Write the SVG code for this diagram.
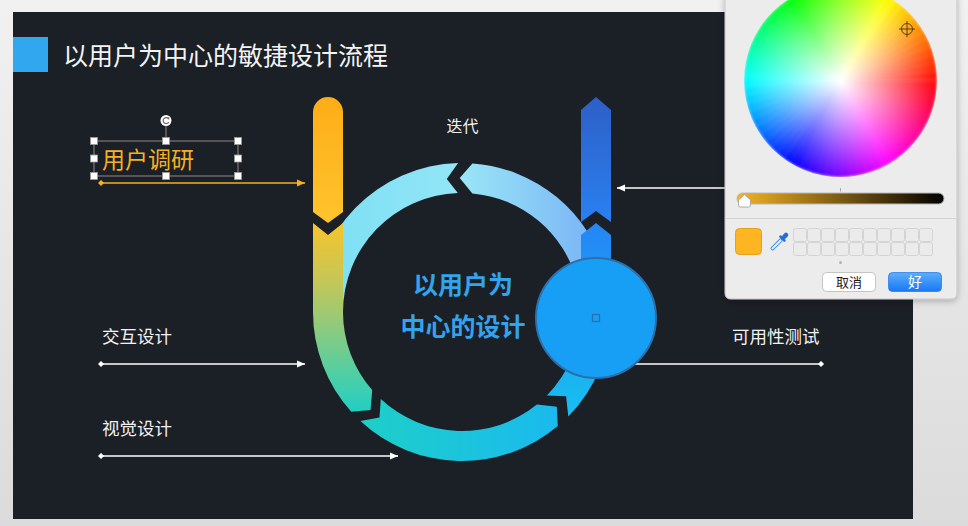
<svg xmlns="http://www.w3.org/2000/svg" width="968" height="526" viewBox="0 0 968 526">
<defs>
<style>
.cjk{font-family:"Noto Sans CJK SC","Noto Sans CJK JP",sans-serif}
.lbl{fill:#f2f2f2;font-size:17.5px}
.ln{stroke:#fff;stroke-width:1.4;fill:none}
.hw{fill:none;stroke-width:96.5;stroke-dasharray:5 299}
.hd{fill:#fff;stroke:#9a9a9a;stroke-width:0.8}
.sw{fill:#ebebeb;stroke:#d4d4d4;stroke-width:1}
</style>
<linearGradient id="gPage" x1="0" y1="0" x2="0" y2="1"><stop offset="0" stop-color="#f1f1f1"/><stop offset="1" stop-color="#dbdbdb"/></linearGradient>
<linearGradient id="gYT" gradientUnits="userSpaceOnUse" x1="0" y1="97" x2="0" y2="223"><stop offset="0" stop-color="#fdad17"/><stop offset="1" stop-color="#fec42c"/></linearGradient>
<linearGradient id="gLeft" gradientUnits="userSpaceOnUse" x1="0" y1="223" x2="0" y2="412"><stop offset="0" stop-color="#f7c42b"/><stop offset="0.3" stop-color="#c6c756"/><stop offset="0.55" stop-color="#8fca7d"/><stop offset="0.8" stop-color="#4fcfa4"/><stop offset="1" stop-color="#22cec5"/></linearGradient>
<linearGradient id="gTL" gradientUnits="userSpaceOnUse" x1="313" y1="0" x2="458" y2="0"><stop offset="0" stop-color="#7bdff3"/><stop offset="1" stop-color="#93e5f7"/></linearGradient>
<linearGradient id="gTR" gradientUnits="userSpaceOnUse" x1="460" y1="0" x2="611" y2="0"><stop offset="0" stop-color="#9ae6f7"/><stop offset="1" stop-color="#76aef6"/></linearGradient>
<linearGradient id="gBot" gradientUnits="userSpaceOnUse" x1="360" y1="0" x2="558" y2="0"><stop offset="0" stop-color="#1ecfc8"/><stop offset="1" stop-color="#1abaee"/></linearGradient>
<linearGradient id="gBR" gradientUnits="userSpaceOnUse" x1="0" y1="223" x2="0" y2="416"><stop offset="0" stop-color="#2585f5"/><stop offset="1" stop-color="#17bff0"/></linearGradient>
<linearGradient id="gBT" gradientUnits="userSpaceOnUse" x1="0" y1="97" x2="0" y2="222"><stop offset="0" stop-color="#2d5fc6"/><stop offset="1" stop-color="#2a80f1"/></linearGradient>
<linearGradient id="gSlider" x1="0" y1="0" x2="1" y2="0"><stop offset="0" stop-color="#f6b324"/><stop offset="1" stop-color="#000"/></linearGradient>
<linearGradient id="gOk" x1="0" y1="0" x2="0" y2="1"><stop offset="0" stop-color="#5eaefc"/><stop offset="1" stop-color="#1878f4"/></linearGradient>
<radialGradient id="gWhite" cx="0.5" cy="0.5" r="0.5"><stop offset="0" stop-color="#fff" stop-opacity="1"/><stop offset="1" stop-color="#fff" stop-opacity="0"/></radialGradient>
<clipPath id="cWheel"><circle cx="840.5" cy="80.5" r="96.5"/></clipPath>
<filter id="fBlur" filterUnits="userSpaceOnUse" x="-110" y="-110" width="220" height="220"><feGaussianBlur stdDeviation="1.5"/></filter>
<filter id="fShadow" x="-10%" y="-10%" width="120%" height="120%"><feDropShadow dx="0" dy="2" stdDeviation="3" flood-color="#000" flood-opacity="0.25"/></filter>
<marker id="arrW" viewBox="0 0 8 8" refX="8" refY="4" markerWidth="8" markerHeight="8" orient="auto" markerUnits="userSpaceOnUse"><path d="M0,0.5 L8,4 L0,7.5 Z" fill="#fff"/></marker>
<marker id="arrO" viewBox="0 0 8 8" refX="8" refY="4" markerWidth="8" markerHeight="8" orient="auto" markerUnits="userSpaceOnUse"><path d="M0,0.5 L8,4 L0,7.5 Z" fill="#f5b120"/></marker>
<marker id="dW" viewBox="0 0 8 8" refX="4" refY="4" markerWidth="7" markerHeight="7" orient="auto" markerUnits="userSpaceOnUse"><path d="M4,0.5 L7.5,4 L4,7.5 L0.5,4 Z" fill="#fff"/></marker>
<marker id="dO" viewBox="0 0 8 8" refX="4" refY="4" markerWidth="7" markerHeight="7" orient="auto" markerUnits="userSpaceOnUse"><path d="M4,0.5 L7.5,4 L4,7.5 L0.5,4 Z" fill="#f5b120"/></marker>
</defs>

<rect x="0" y="0" width="968" height="526" fill="url(#gPage)"/>
<rect id="slide" x="13" y="12" width="900" height="507" fill="#1b1f26"/>

<g id="title">
<rect x="13" y="37" width="35" height="35" fill="#31a7f0"/>
<text class="cjk" x="63" y="65" font-size="25" fill="#f4f4f4">以用户为中心的敏捷设计流程</text>
</g>

<g id="arc-top-left"><path d="M313,312 A149,149 0 0 1 458.1,163.05 L446.8,178.9 L457.8,193.1 A119,119 0 0 0 343,312 Z" fill="url(#gTL)"/></g>
<g id="arc-top-right"><path d="M472.4,163.4 A149,149 0 0 1 605.9,273.4 L577,281.2 A119,119 0 0 0 472.4,193.5 L459.7,178 Z" fill="url(#gTR)"/></g>
<g id="arc-bottom"><path d="M360.4,421 A149,149 0 0 0 557.8,426.1 L556.8,406.8 L536.9,404.5 A119,119 0 0 1 380.8,399 L379.5,417.6 Z" fill="url(#gBot)"/></g>
<g id="left-piece"><path d="M313,223 L328,235 L343,223 L343,312 A119,119 0 0 0 372.2,390.1 L370.6,410 L351.3,411.7 A149,149 0 0 1 313,312 Z" fill="url(#gLeft)"/></g>
<g id="yellow-bar"><path d="M313,212 L313,112 A15,15 0 0 1 343,112 L343,212 L328,223 Z" fill="url(#gYT)"/></g>
<g id="blue-bar"><path d="M581,110 L596,97 L611,110 L611,222 L596,211 L581,222 Z" fill="url(#gBT)"/></g>
<g id="right-piece"><path d="M581,235 L596,223 L611,235 L611,312 A149,149 0 0 1 568.3,416.4 L566.1,396.3 L546.9,395.4 A119,119 0 0 0 581,312 Z" fill="url(#gBR)"/></g>

<g id="connectors">
<line x1="101" y1="183" x2="305" y2="183" stroke="#f5b120" stroke-width="1.4" marker-start="url(#dO)" marker-end="url(#arrO)"/>
<line class="ln" x1="101" y1="364" x2="305" y2="364" marker-start="url(#dW)" marker-end="url(#arrW)"/>
<line class="ln" x1="101" y1="456" x2="398" y2="456" marker-start="url(#dW)" marker-end="url(#arrW)"/>
<line class="ln" x1="600" y1="364" x2="821" y2="364" marker-end="url(#dW)"/>
<line class="ln" x1="770" y1="188" x2="617" y2="188" marker-end="url(#arrW)"/>
</g>

<g id="blue-circle">
<circle cx="596" cy="318" r="60" fill="#169ff5" stroke="#2d6fa8" stroke-width="2"/>
<rect x="592.5" y="314.5" width="7" height="7" fill="none" stroke="#2a6fae" stroke-width="1.2"/>
</g>

<g id="center-text" class="cjk" font-size="25" font-weight="bold" fill="#33a3eb" text-anchor="middle">
<text x="463" y="294">以用户为</text>
<text x="463" y="336">中心的设计</text>
</g>

<g id="label-iterate"><text class="cjk" x="462.5" y="132" font-size="16" fill="#f2f2f2" text-anchor="middle">迭代</text></g>

<g id="label-research">
<rect x="94" y="141" width="144" height="35" fill="none" stroke="#8c8c8c" stroke-width="1"/>
<line x1="166" y1="126" x2="166" y2="141" stroke="#8c8c8c" stroke-width="1"/>
<circle cx="166" cy="120.5" r="5.5" fill="#fff"/>
<path d="M168.4,118.6 A3,3 0 1 0 168.8,122" fill="none" stroke="#6d6d6d" stroke-width="1.2"/>
<path d="M167.2,117.2 L169.6,117.6 L168.9,119.9 Z" fill="#6d6d6d"/>
<rect class="hd" x="90.5" y="137.5" width="7" height="7"/>
<rect class="hd" x="162.5" y="137.5" width="7" height="7"/>
<rect class="hd" x="234.5" y="137.5" width="7" height="7"/>
<rect class="hd" x="90.5" y="155" width="7" height="7"/>
<rect class="hd" x="234.5" y="155" width="7" height="7"/>
<rect class="hd" x="90.5" y="172.5" width="7" height="7"/>
<rect class="hd" x="162.5" y="172.5" width="7" height="7"/>
<rect class="hd" x="234.5" y="172.5" width="7" height="7"/>
<text class="cjk" x="102" y="168" font-size="23" fill="#f5b120">用户调研</text>
</g>

<g id="label-interaction"><text class="cjk lbl" x="102" y="342.5">交互设计</text></g>
<g id="label-visual"><text class="cjk lbl" x="102" y="434.5">视觉设计</text></g>
<g id="label-usability"><text class="cjk lbl" x="732" y="342.5">可用性测试</text></g>

<g id="color-picker">
<path d="M725,-5 H957 V293 Q957,299 951,299 H731 Q725,299 725,293 Z" fill="#ececec" stroke="#c6c6c6" stroke-width="1" filter="url(#fShadow)"/>
<g clip-path="url(#cWheel)">
<g filter="url(#fBlur)" transform="translate(840.5,80.5)">
<circle class="hw" r="48.25" stroke="hsl(357.5,100%,50%)" stroke-dashoffset="0"/>
<circle class="hw" r="48.25" stroke="hsl(352.5,100%,50%)" stroke-dashoffset="-4.21"/>
<circle class="hw" r="48.25" stroke="hsl(347.5,100%,50%)" stroke-dashoffset="-8.42"/>
<circle class="hw" r="48.25" stroke="hsl(342.5,100%,50%)" stroke-dashoffset="-12.63"/>
<circle class="hw" r="48.25" stroke="hsl(337.5,100%,50%)" stroke-dashoffset="-16.84"/>
<circle class="hw" r="48.25" stroke="hsl(332.5,100%,50%)" stroke-dashoffset="-21.05"/>
<circle class="hw" r="48.25" stroke="hsl(327.5,100%,50%)" stroke-dashoffset="-25.26"/>
<circle class="hw" r="48.25" stroke="hsl(322.5,100%,50%)" stroke-dashoffset="-29.47"/>
<circle class="hw" r="48.25" stroke="hsl(317.5,100%,50%)" stroke-dashoffset="-33.68"/>
<circle class="hw" r="48.25" stroke="hsl(312.5,100%,50%)" stroke-dashoffset="-37.90"/>
<circle class="hw" r="48.25" stroke="hsl(307.5,100%,50%)" stroke-dashoffset="-42.11"/>
<circle class="hw" r="48.25" stroke="hsl(302.5,100%,50%)" stroke-dashoffset="-46.32"/>
<circle class="hw" r="48.25" stroke="hsl(297.5,100%,50%)" stroke-dashoffset="-50.53"/>
<circle class="hw" r="48.25" stroke="hsl(292.5,100%,50%)" stroke-dashoffset="-54.74"/>
<circle class="hw" r="48.25" stroke="hsl(287.5,100%,50%)" stroke-dashoffset="-58.95"/>
<circle class="hw" r="48.25" stroke="hsl(282.5,100%,50%)" stroke-dashoffset="-63.16"/>
<circle class="hw" r="48.25" stroke="hsl(277.5,100%,50%)" stroke-dashoffset="-67.37"/>
<circle class="hw" r="48.25" stroke="hsl(272.5,100%,50%)" stroke-dashoffset="-71.58"/>
<circle class="hw" r="48.25" stroke="hsl(267.5,100%,50%)" stroke-dashoffset="-75.79"/>
<circle class="hw" r="48.25" stroke="hsl(262.5,100%,50%)" stroke-dashoffset="-80.00"/>
<circle class="hw" r="48.25" stroke="hsl(257.5,100%,50%)" stroke-dashoffset="-84.21"/>
<circle class="hw" r="48.25" stroke="hsl(252.5,100%,50%)" stroke-dashoffset="-88.42"/>
<circle class="hw" r="48.25" stroke="hsl(247.5,100%,50%)" stroke-dashoffset="-92.63"/>
<circle class="hw" r="48.25" stroke="hsl(242.5,100%,50%)" stroke-dashoffset="-96.84"/>
<circle class="hw" r="48.25" stroke="hsl(237.5,100%,50%)" stroke-dashoffset="-101.05"/>
<circle class="hw" r="48.25" stroke="hsl(232.5,100%,50%)" stroke-dashoffset="-105.26"/>
<circle class="hw" r="48.25" stroke="hsl(227.5,100%,50%)" stroke-dashoffset="-109.47"/>
<circle class="hw" r="48.25" stroke="hsl(222.5,100%,50%)" stroke-dashoffset="-113.68"/>
<circle class="hw" r="48.25" stroke="hsl(217.5,100%,50%)" stroke-dashoffset="-117.90"/>
<circle class="hw" r="48.25" stroke="hsl(212.5,100%,50%)" stroke-dashoffset="-122.11"/>
<circle class="hw" r="48.25" stroke="hsl(207.5,100%,50%)" stroke-dashoffset="-126.32"/>
<circle class="hw" r="48.25" stroke="hsl(202.5,100%,50%)" stroke-dashoffset="-130.53"/>
<circle class="hw" r="48.25" stroke="hsl(197.5,100%,50%)" stroke-dashoffset="-134.74"/>
<circle class="hw" r="48.25" stroke="hsl(192.5,100%,50%)" stroke-dashoffset="-138.95"/>
<circle class="hw" r="48.25" stroke="hsl(187.5,100%,50%)" stroke-dashoffset="-143.16"/>
<circle class="hw" r="48.25" stroke="hsl(182.5,100%,50%)" stroke-dashoffset="-147.37"/>
<circle class="hw" r="48.25" stroke="hsl(177.5,100%,50%)" stroke-dashoffset="-151.58"/>
<circle class="hw" r="48.25" stroke="hsl(172.5,100%,50%)" stroke-dashoffset="-155.79"/>
<circle class="hw" r="48.25" stroke="hsl(167.5,100%,50%)" stroke-dashoffset="-160.00"/>
<circle class="hw" r="48.25" stroke="hsl(162.5,100%,50%)" stroke-dashoffset="-164.21"/>
<circle class="hw" r="48.25" stroke="hsl(157.5,100%,50%)" stroke-dashoffset="-168.42"/>
<circle class="hw" r="48.25" stroke="hsl(152.5,100%,50%)" stroke-dashoffset="-172.63"/>
<circle class="hw" r="48.25" stroke="hsl(147.5,100%,50%)" stroke-dashoffset="-176.84"/>
<circle class="hw" r="48.25" stroke="hsl(142.5,100%,50%)" stroke-dashoffset="-181.06"/>
<circle class="hw" r="48.25" stroke="hsl(137.5,100%,50%)" stroke-dashoffset="-185.27"/>
<circle class="hw" r="48.25" stroke="hsl(132.5,100%,50%)" stroke-dashoffset="-189.48"/>
<circle class="hw" r="48.25" stroke="hsl(127.5,100%,50%)" stroke-dashoffset="-193.69"/>
<circle class="hw" r="48.25" stroke="hsl(122.5,100%,50%)" stroke-dashoffset="-197.90"/>
<circle class="hw" r="48.25" stroke="hsl(117.5,100%,50%)" stroke-dashoffset="-202.11"/>
<circle class="hw" r="48.25" stroke="hsl(112.5,100%,50%)" stroke-dashoffset="-206.32"/>
<circle class="hw" r="48.25" stroke="hsl(107.5,100%,50%)" stroke-dashoffset="-210.53"/>
<circle class="hw" r="48.25" stroke="hsl(102.5,100%,50%)" stroke-dashoffset="-214.74"/>
<circle class="hw" r="48.25" stroke="hsl(97.5,100%,50%)" stroke-dashoffset="-218.95"/>
<circle class="hw" r="48.25" stroke="hsl(92.5,100%,50%)" stroke-dashoffset="-223.16"/>
<circle class="hw" r="48.25" stroke="hsl(87.5,100%,50%)" stroke-dashoffset="-227.37"/>
<circle class="hw" r="48.25" stroke="hsl(82.5,100%,50%)" stroke-dashoffset="-231.58"/>
<circle class="hw" r="48.25" stroke="hsl(77.5,100%,50%)" stroke-dashoffset="-235.79"/>
<circle class="hw" r="48.25" stroke="hsl(72.5,100%,50%)" stroke-dashoffset="-240.00"/>
<circle class="hw" r="48.25" stroke="hsl(67.5,100%,50%)" stroke-dashoffset="-244.21"/>
<circle class="hw" r="48.25" stroke="hsl(62.5,100%,50%)" stroke-dashoffset="-248.42"/>
<circle class="hw" r="48.25" stroke="hsl(57.5,100%,50%)" stroke-dashoffset="-252.64"/>
<circle class="hw" r="48.25" stroke="hsl(52.5,100%,50%)" stroke-dashoffset="-256.85"/>
<circle class="hw" r="48.25" stroke="hsl(47.5,100%,50%)" stroke-dashoffset="-261.06"/>
<circle class="hw" r="48.25" stroke="hsl(42.5,100%,50%)" stroke-dashoffset="-265.27"/>
<circle class="hw" r="48.25" stroke="hsl(37.5,100%,50%)" stroke-dashoffset="-269.48"/>
<circle class="hw" r="48.25" stroke="hsl(32.5,100%,50%)" stroke-dashoffset="-273.69"/>
<circle class="hw" r="48.25" stroke="hsl(27.5,100%,50%)" stroke-dashoffset="-277.90"/>
<circle class="hw" r="48.25" stroke="hsl(22.5,100%,50%)" stroke-dashoffset="-282.11"/>
<circle class="hw" r="48.25" stroke="hsl(17.5,100%,50%)" stroke-dashoffset="-286.32"/>
<circle class="hw" r="48.25" stroke="hsl(12.5,100%,50%)" stroke-dashoffset="-290.53"/>
<circle class="hw" r="48.25" stroke="hsl(7.5,100%,50%)" stroke-dashoffset="-294.74"/>
<circle class="hw" r="48.25" stroke="hsl(2.5,100%,50%)" stroke-dashoffset="-298.95"/>
</g>
<circle cx="840.5" cy="80.5" r="96.5" fill="url(#gWhite)"/>
</g>
<g stroke="#5a3c10" stroke-width="1" fill="none">
<circle cx="907" cy="29" r="5.5"/>
<line x1="899" y1="29" x2="915" y2="29"/>
<line x1="907" y1="21" x2="907" y2="37"/>
</g>
<line x1="840.5" y1="188" x2="840.5" y2="191.5" stroke="#a8a8a8" stroke-width="1"/>
<rect x="737" y="193" width="207" height="11" rx="5.5" fill="url(#gSlider)" stroke="#b8b8b8" stroke-width="1"/>
<path d="M744.5,194.5 L750.5,200 L750.5,205 Q750.5,207 748.5,207 L740.5,207 Q738.5,207 738.5,205 L738.5,200 Z" fill="#fff" stroke="#9a9a9a" stroke-width="0.8"/>
<line x1="725" y1="218.5" x2="957" y2="218.5" stroke="#d2d2d2" stroke-width="1"/>
<rect x="735.5" y="228.5" width="26" height="26" rx="4" fill="#fdb521" stroke="#e3a21c" stroke-width="1"/>
<g transform="rotate(45 778 243)">
<rect x="776.5" y="238" width="3" height="14" rx="1" fill="#e8f1ff" stroke="#3a8ef2" stroke-width="1"/>
<rect x="774" y="235.5" width="8" height="2.5" rx="1" fill="#1f6fd8"/>
<rect x="775.8" y="229.5" width="4.4" height="6.5" rx="2" fill="#1f6fd8"/>
</g>
<g>
<rect class="sw" x="793.5" y="228.5" width="13" height="13" rx="2"/>
<rect class="sw" x="807.5" y="228.5" width="13" height="13" rx="2"/>
<rect class="sw" x="821.5" y="228.5" width="13" height="13" rx="2"/>
<rect class="sw" x="835.5" y="228.5" width="13" height="13" rx="2"/>
<rect class="sw" x="849.5" y="228.5" width="13" height="13" rx="2"/>
<rect class="sw" x="863.5" y="228.5" width="13" height="13" rx="2"/>
<rect class="sw" x="877.5" y="228.5" width="13" height="13" rx="2"/>
<rect class="sw" x="891.5" y="228.5" width="13" height="13" rx="2"/>
<rect class="sw" x="905.5" y="228.5" width="13" height="13" rx="2"/>
<rect class="sw" x="919.5" y="228.5" width="13" height="13" rx="2"/>
<rect class="sw" x="793.5" y="242.5" width="13" height="13" rx="2"/>
<rect class="sw" x="807.5" y="242.5" width="13" height="13" rx="2"/>
<rect class="sw" x="821.5" y="242.5" width="13" height="13" rx="2"/>
<rect class="sw" x="835.5" y="242.5" width="13" height="13" rx="2"/>
<rect class="sw" x="849.5" y="242.5" width="13" height="13" rx="2"/>
<rect class="sw" x="863.5" y="242.5" width="13" height="13" rx="2"/>
<rect class="sw" x="877.5" y="242.5" width="13" height="13" rx="2"/>
<rect class="sw" x="891.5" y="242.5" width="13" height="13" rx="2"/>
<rect class="sw" x="905.5" y="242.5" width="13" height="13" rx="2"/>
<rect class="sw" x="919.5" y="242.5" width="13" height="13" rx="2"/>
</g>
<circle cx="840.5" cy="262.5" r="1.5" fill="#b4b4b4"/>
<rect x="822.5" y="272.5" width="53" height="19" rx="4" fill="#fff" stroke="#c4c4c4" stroke-width="1"/>
<text class="cjk" x="849" y="286.5" font-size="13" fill="#1a1a1a" text-anchor="middle">取消</text>
<rect x="888.5" y="272.5" width="53" height="19" rx="4" fill="url(#gOk)" stroke="#2a7fe8" stroke-width="0.8"/>
<text class="cjk" x="915" y="287" font-size="14" fill="#fff" text-anchor="middle">好</text>
</g>
</svg>
